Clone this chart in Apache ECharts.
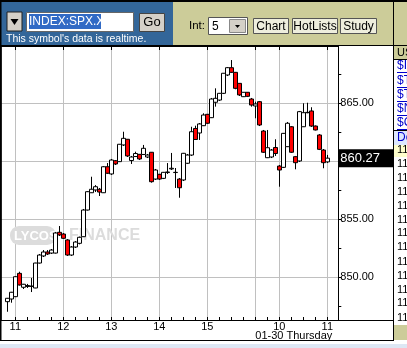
<!DOCTYPE html>
<html><head><meta charset="utf-8">
<script src="https://cdn.jsdelivr.net/npm/echarts@6/dist/echarts.min.js"></script>
<style>html,body{margin:0;padding:0;background:#fff;}#c{width:407px;height:348px;}</style>
</head><body><div id="c"></div>
<script>
// ---- data ----
const times = ['10:50','10:55','11:00','11:05','11:10','11:15','11:20','11:25','11:30','11:35',
'11:40','11:45','11:50','11:55','12:00','12:05','12:10','12:15','12:20','12:25',
'12:30','12:35','12:40','12:45','12:50','12:55','13:00','13:05','13:10','13:15',
'13:20','13:25','13:30','13:35','13:40','13:45','13:50','13:55','14:00','14:05',
'14:10','14:15','14:20','14:25','14:30','14:35','14:40','14:45','14:50','14:55',
'15:00','15:05','15:10','15:15','15:20','15:25','15:30','15:35','15:40','15:45',
'15:50','15:55','09:30','09:35','09:40','09:45','09:50','09:55','10:00','10:05',
'10:10','10:15','10:20','10:25','10:30','10:35','10:40','10:45','10:50','10:55',
'11:00'];
const opens = [847.90,848.13,848.33,850.34,849.14,849.21,849.21,849.08,851.23,851.84,
852.18,852.09,852.09,853.88,853.73,853.22,851.92,852.61,852.93,853.50,
855.80,857.29,857.53,857.59,857.29,859.53,858.91,860.05,859.97,861.41,
861.90,860.07,860.41,860.60,860.59,860.37,860.78,858.47,858.88,858.53,
859.03,859.34,859.03,858.47,858.39,859.83,860.54,862.83,862.44,863.07,
864.05,863.76,865.09,865.28,865.86,867.44,868.07,867.67,866.72,865.57,
865.95,865.37,864.77,865.14,862.61,860.31,860.37,861.19,859.59,859.48,
861.26,862.98,860.40,860.03,862.98,864.19,864.34,863.04,862.27,860.97,
859.95];
const closes = [848.19,848.71,850.05,849.34,849.40,849.29,849.25,851.23,851.92,852.18,
852.01,852.35,853.82,853.65,853.36,851.92,852.61,853.04,853.45,855.80,
857.38,857.59,857.81,857.35,859.53,858.97,860.11,859.77,861.47,861.98,
860.46,860.37,860.67,860.20,861.12,860.54,858.24,859.25,858.47,859.05,
859.08,859.40,859.05,857.72,860.69,860.54,862.55,861.88,863.22,863.99,
863.28,865.37,865.43,865.86,867.59,868.07,867.67,866.29,865.72,865.95,
865.60,864.85,864.94,863.13,860.78,861.17,860.97,860.67,859.25,862.41,
863.28,860.78,859.88,864.28,864.19,864.22,863.04,862.70,861.03,859.88,
860.27];
const lows = [847.03,847.81,848.30,849.29,848.99,849.08,848.73,849.06,851.19,851.75,
851.92,852.01,852.05,853.56,853.30,851.84,851.84,852.53,852.84,853.47,
855.76,857.27,857.35,857.01,857.27,858.91,858.82,859.68,859.94,861.32,
860.37,859.77,860.37,860.11,860.54,860.28,858.16,858.39,858.39,858.47,
858.91,859.25,857.70,856.86,858.30,859.77,860.46,861.84,861.84,863.04,
863.22,863.73,864.71,865.20,865.80,867.35,867.61,866.21,865.63,865.54,
865.54,864.71,863.71,863.04,860.72,860.28,860.28,860.46,857.81,859.42,
861.23,860.72,859.31,859.94,862.96,864.14,862.96,862.66,860.97,859.40,
859.85];
const highs = [848.22,848.74,850.11,850.48,849.43,849.43,849.94,851.25,852.01,852.35,
852.35,852.44,853.91,854.42,853.82,853.30,852.69,853.12,853.51,855.89,
857.44,858.67,857.95,857.70,859.59,859.85,860.20,860.11,861.49,862.55,
861.92,860.46,860.83,860.63,861.41,860.63,860.80,859.34,858.91,859.08,
859.85,860.72,859.42,858.56,860.72,860.63,862.98,863.07,863.30,864.14,
864.08,865.46,866.29,865.89,867.61,868.13,868.73,867.70,866.75,865.97,
865.97,865.46,865.14,865.20,862.70,862.70,861.06,861.90,859.68,862.44,
863.39,863.04,860.46,864.34,865.00,865.05,864.66,863.09,862.35,861.06,
860.55];
const hourTickIdx = [2,14,26,38,50,62,68,80];
const hourLabelIdx = [2,14,26,38,50,68,80];
const hourLabels = ['11','12','13','14','15','10','11'];
const quarterTickIdx = [2,5,8,11,14,17,20,23,26,29,32,35,38,41,44,47,50,53,56,59,62,65,68,71,74,77,80];
const dayBreakIdx = [62];
const dayLabel = '01-30 Thursday';
const priceLabels = [850,855,860,865];
const priceTicks = [847.5,850,852.5,855,857.5,860,862.5,865,867.5];
const lastPrice = 860.27;

// ---- chart ----
const FONT = '"Liberation Sans", Arial, sans-serif';
const chart = echarts.init(document.getElementById('c'), null, {renderer:'canvas'});
const candleData = opens.map((o,i)=>[i, o, closes[i], lows[i], highs[i]]);
const xMin = -1.575, xMax = 82.75, yMin = 846.319, yMax = 869.94;
const grid = {left:1, right:68.7, top:46, bottom:28};

const xBase = {type:'value', min:xMin, max:xMax, splitLine:{show:false}, axisLabel:{show:false}, axisTick:{show:false}, axisLine:{show:false}};

const option = {
  animation:false,
  backgroundColor:'#fff',
  grid: grid,
  xAxis: [
    Object.assign({}, xBase, {position:'bottom',
      axisLine:{show:true, onZero:false, lineStyle:{color:'#000', width:1}},
      axisTick:{show:false, customValues:hourTickIdx},
      splitLine:{show:true, lineStyle:{color:'#c0c0c0', width:1}},
      axisLabel:{show:true, customValues:hourLabelIdx, margin:1, fontSize:11, color:'#000', fontFamily:FONT,
        formatter:(v)=>hourLabels[hourLabelIdx.indexOf(Math.round(v))] || ''}}),
    Object.assign({}, xBase, {position:'bottom',
      axisTick:{show:true, inside:true, length:3, customValues:quarterTickIdx, lineStyle:{color:'#000'}}}),
    Object.assign({}, xBase, {position:'bottom',
      axisLabel:{show:true, customValues:dayBreakIdx, margin:10, fontSize:11, color:'#000', fontFamily:FONT, align:'left',
        formatter:()=>dayLabel}}),
    Object.assign({}, xBase, {position:'top',
      axisLine:{show:true, onZero:false, lineStyle:{color:'#000', width:1}},
      axisTick:{show:true, inside:true, length:4, customValues:hourTickIdx, lineStyle:{color:'#000'}}})
  ],
  yAxis: [
    {type:'value', min:yMin, max:yMax, position:'left',
      axisLine:{show:true, onZero:false, lineStyle:{color:'#000', width:1.5}},
      axisTick:{show:false, customValues:priceLabels},
      axisLabel:{show:false},
      splitLine:{show:true, lineStyle:{color:'#c0c0c0', width:1}}},
    {type:'value', min:yMin, max:yMax, position:'right',
      axisLine:{show:true, onZero:false, lineStyle:{color:'#000', width:1}},
      axisTick:{show:true, length:3, customValues:priceTicks, lineStyle:{color:'#000'}},
      axisLabel:{show:true, customValues:priceLabels, margin:2, fontSize:11, color:'#000', fontFamily:FONT,
        formatter:(v)=>v.toFixed(2)},
      splitLine:{show:false}}
  ],
  series: [{
    type:'candlestick', xAxisIndex:0, yAxisIndex:0, barWidth:4, z:3, clip:false,
    data:candleData,
    itemStyle:{color:'#ffffff', color0:'#ff0000', borderColor:'#000', borderColor0:'#000', borderWidth:1},
    markLine:{symbol:'none', silent:true, animation:false, precision:2,
      data:[{yAxis:lastPrice}],
      lineStyle:{color:'rgba(0,0,0,0)', width:1, type:'solid'},
      label:{show:true, position:'end', distance:0, formatter:lastPrice.toFixed(2), backgroundColor:'#000', color:'#fff',
        fontSize:13, fontFamily:FONT, padding:[3,13,2,2]}}
  }],
  graphic: [
    // watermark
    {type:'rect', z:1, shape:{x:10, y:226, width:46, height:19, r:9}, style:{fill:'#dcdcdc'}},
    {type:'text', z:1, style:{x:14, y:236, text:'LYCOS', fill:'#ffffff', font:'bold 13px '+FONT, verticalAlign:'middle'}},
    {type:'text', z:1, style:{x:69, y:236, text:'FINANCE', fill:'#dcdcdc', font:'bold 16px '+FONT, verticalAlign:'middle'}},
    // toolbar
    {type:'rect', z:100, shape:{x:0, y:0, width:407, height:46}, style:{fill:'#cccc99'}},
    {type:'rect', z:101, shape:{x:0, y:0, width:407, height:2}, style:{fill:'#000'}},
    {type:'rect', z:101, shape:{x:1, y:2, width:172, height:43}, style:{fill:'#336699'}},
    {type:'rect', z:101, shape:{x:0, y:0, width:1.5, height:340}, style:{fill:'#000'}},
    {type:'line', z:101, shape:{x1:0, y1:45.5, x2:407, y2:45.5}, style:{stroke:'#000', lineWidth:1}},
    {type:'line', z:101, shape:{x1:393.5, y1:0, x2:393.5, y2:341}, style:{stroke:'#000', lineWidth:1}},
    // left dropdown button
    {type:'rect', z:102, shape:{x:7, y:12, width:15, height:19}, style:{fill:'#d4d0c8', stroke:'#222', lineWidth:1}},
    {type:'polygon', z:103, shape:{points:[[10.5,19],[18.5,19],[14.5,25]]}, style:{fill:'#000'}},
    // input
    {type:'rect', z:102, shape:{x:26.5, y:12.5, width:107, height:19}, style:{fill:'#fff', stroke:'#666', lineWidth:1}},
    {type:'rect', z:103, shape:{x:29, y:14, width:72, height:15}, style:{fill:'#316ac5'}},
    {type:'text', z:104, style:{x:29, y:22, text:'INDEX:SPX.X', fill:'#fff', font:'12px '+FONT, verticalAlign:'middle'}},
    // Go button
    {type:'rect', z:102, shape:{x:139.5, y:13.5, width:25, height:18}, style:{fill:'#d4d0c8', stroke:'#444', lineWidth:1}},
    {type:'text', z:103, style:{x:152, y:22.5, text:'Go', fill:'#000', font:'13px '+FONT, align:'center', verticalAlign:'middle'}},
    {type:'text', z:102, style:{x:6, y:39.5, text:"This symbol's data is realtime.", fill:'#fff', font:'10.5px '+FONT, verticalAlign:'middle'}},
    // Int select
    {type:'text', z:102, style:{x:189, y:26, text:'Int:', fill:'#000', font:'11.5px '+FONT, verticalAlign:'middle'}},
    {type:'rect', z:102, shape:{x:208.5, y:17.5, width:39, height:17}, style:{fill:'#fff', stroke:'#555', lineWidth:1}},
    {type:'text', z:103, style:{x:212, y:26.5, text:'5', fill:'#000', font:'12px '+FONT, verticalAlign:'middle'}},
    {type:'rect', z:103, shape:{x:229.5, y:19.5, width:16, height:13}, style:{fill:'#d4d0c8', stroke:'#888', lineWidth:1}},
    {type:'polygon', z:104, shape:{points:[[235,25],[240,25],[237.5,28]]}, style:{fill:'#000'}},
    // buttons
    {type:'rect', z:102, shape:{x:253.5, y:18.5, width:35, height:15}, style:{fill:'#eeeedd', stroke:'#555', lineWidth:1}},
    {type:'text', z:103, style:{x:271, y:26.5, text:'Chart', fill:'#000', font:'12px '+FONT, align:'center', verticalAlign:'middle'}},
    {type:'rect', z:102, shape:{x:292.5, y:18.5, width:45, height:15}, style:{fill:'#eeeedd', stroke:'#555', lineWidth:1}},
    {type:'text', z:103, style:{x:315, y:26.5, text:'HotLists', fill:'#000', font:'12px '+FONT, align:'center', verticalAlign:'middle'}},
    {type:'rect', z:102, shape:{x:340.5, y:18.5, width:36, height:15}, style:{fill:'#eeeedd', stroke:'#555', lineWidth:1}},
    {type:'text', z:103, style:{x:358.5, y:26.5, text:'Study', fill:'#000', font:'12px '+FONT, align:'center', verticalAlign:'middle'}},
    // frame lines
    {type:'line', z:101, shape:{x1:338, y1:320.5, x2:394, y2:320.5}, style:{stroke:'#000', lineWidth:1}},
    {type:'line', z:101, shape:{x1:0, y1:340.5, x2:394, y2:340.5}, style:{stroke:'#000', lineWidth:1}},
    {type:'rect', z:101, shape:{x:0, y:344, width:407, height:4}, style:{fill:'#dde7f4'}},
    // right panel
    {type:'rect', z:101, shape:{x:394, y:46, width:13, height:13}, style:{fill:'#cccc99'}},
    {type:'line', z:102, shape:{x1:394, y1:59.5, x2:407, y2:59.5}, style:{stroke:'#000', lineWidth:1}},
    {type:'text', z:102, style:{x:397, y:53, text:'US', fill:'#000', font:'11px '+FONT, verticalAlign:'middle'}},
    ...[['$IN',66],['$T',81],['$T',95],['$N',109],['$C',123]].flatMap(([t,y])=>[
      {type:'text', z:102, style:{x:397, y:y, text:t, fill:'#0000cc', font:'12px '+FONT, verticalAlign:'middle'}},
      {type:'line', z:102, shape:{x1:397, y1:y+6.5, x2:407, y2:y+6.5}, style:{stroke:'#0000cc', lineWidth:1}}
    ]),
    {type:'rect', z:101, shape:{x:394, y:130, width:13, height:15}, style:{fill:'#dde8ff'}},
    {type:'line', z:102, shape:{x1:394, y1:130.5, x2:407, y2:130.5}, style:{stroke:'#000', lineWidth:1}},
    {type:'text', z:102, style:{x:397, y:137.5, text:'De', fill:'#0000cc', font:'12px '+FONT, verticalAlign:'middle'}},
    {type:'rect', z:101, shape:{x:394, y:145, width:13, height:12}, style:{fill:'#ffffcc'}},
    ...[150,164,178,192,206,220,233,247,262,276,290,303,318].map(y=>(
      {type:'text', z:102, style:{x:397, y:y, text:'11', fill:'#000', font:'11px '+FONT, verticalAlign:'middle'}})),
    {type:'rect', z:101, shape:{x:394, y:325, width:13, height:15}, style:{fill:'#cccc99'}}
  ]
};
chart.setOption(option);
</script>
</body></html>
